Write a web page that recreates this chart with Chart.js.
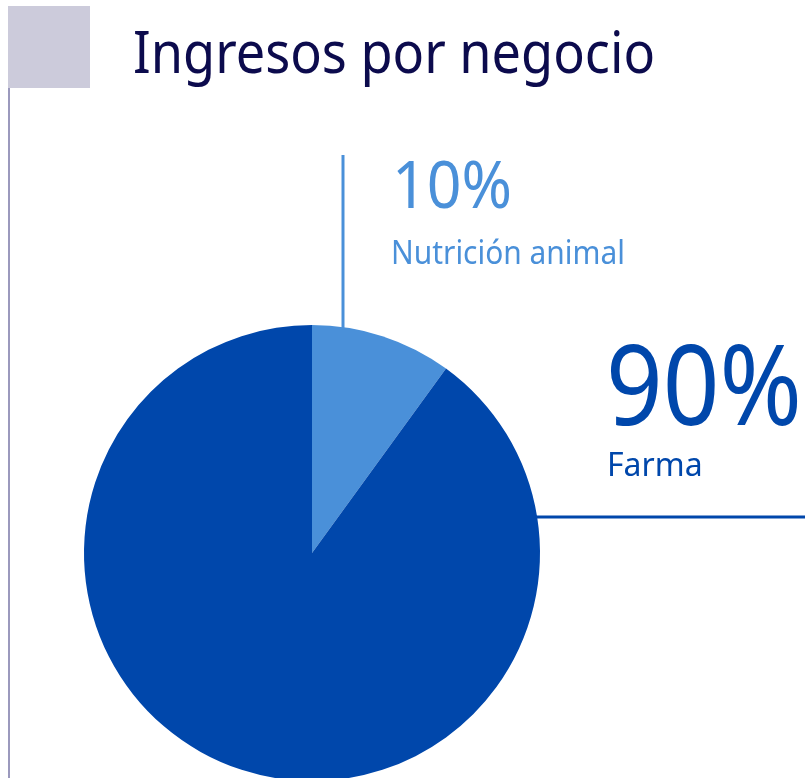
<!DOCTYPE html>
<html>
<head>
    <meta charset="utf-8">
    <title>Ingresos por negocio</title>
    <script src="https://cdn.jsdelivr.net/npm/chart.js"></script>
    <style>
        html, body { margin: 0; padding: 0; overflow: hidden; background: #fff; }
        #wrap { width: 812px; height: 778px; overflow: hidden; position: relative; }
    </style>
</head>
<body>
    <div id="wrap">
        <canvas id="pieChart" width="812" height="1000"></canvas>
    </div>
    <script>
        // data
        const categories = ['Nutrición animal', 'Farma'];
        const shares = [10, 90];
        const shareLabels = ['10%', '90%'];
        const sliceColors = ['#4a90d9', '#0047ab'];
        const titleText = 'Ingresos por negocio';

        const FONT = '"Noto Sans", "Open Sans", sans-serif';

        // decoration + labels drawn on top of the pie
        const labelPlugin = {
            id: 'labels',
            afterDraw(chart) {
                const ctx = chart.ctx;
                const arc = chart.getDatasetMeta(0).data[0];
                const cx = arc.x, cy = arc.y, r = arc.outerRadius;

                ctx.save();
                // header square + left rule
                ctx.fillStyle = '#cccbdb';
                ctx.fillRect(8, 6, 82, 82);
                ctx.fillStyle = '#9b99bd';
                ctx.fillRect(8, 88, 2, 700);

                // title
                ctx.fillStyle = '#0c0b4d';
                ctx.textBaseline = 'alphabetic';
                ctx.font = '400 58px ' + FONT;
                ctx.fillText(titleText, 133, 73, 522);

                // leader for first slice (vertical)
                const lx = cx + 31;
                ctx.strokeStyle = sliceColors[0];
                ctx.lineWidth = 3;
                ctx.beginPath();
                ctx.moveTo(lx, 155);
                ctx.lineTo(lx, cy - Math.sqrt(r * r - 31 * 31) + 2);
                ctx.stroke();

                ctx.fillStyle = sliceColors[0];
                ctx.font = '400 66px ' + FONT;
                ctx.fillText(shareLabels[0], 392, 208, 120);
                ctx.font = '400 32px ' + FONT;
                ctx.fillText(categories[0], 391, 264, 234);

                // leader for second slice (horizontal)
                const ly = cy - 36;
                ctx.strokeStyle = sliceColors[1];
                ctx.beginPath();
                ctx.moveTo(cx + Math.sqrt(r * r - 36 * 36) - 2, ly);
                ctx.lineTo(805, ly);
                ctx.stroke();

                ctx.fillStyle = sliceColors[1];
                ctx.font = '400 112px ' + FONT;
                ctx.fillText(shareLabels[1], 606, 425, 196);
                ctx.font = '400 32px ' + FONT;
                ctx.fillText(categories[1], 607, 476, 100);
                ctx.restore();
            }
        };

        new Chart(document.getElementById('pieChart'), {
            type: 'pie',
            data: {
                labels: categories,
                datasets: [{
                    data: shares,
                    backgroundColor: sliceColors,
                    borderWidth: 0
                }]
            },
            options: {
                responsive: false,
                devicePixelRatio: 1,
                animation: false,
                layout: { padding: { left: 84, right: 272, top: 325, bottom: 219 } },
                plugins: {
                    legend: { display: false },
                    tooltip: { enabled: false }
                }
            },
            plugins: [labelPlugin]
        });
    </script>
</body>
</html>
